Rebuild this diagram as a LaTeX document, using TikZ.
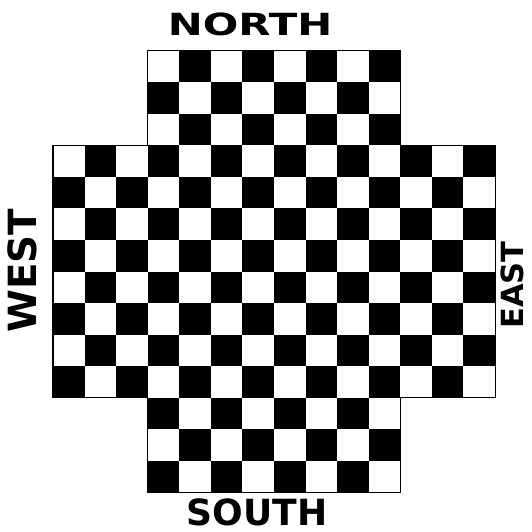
\documentclass[tikz,border=0pt]{standalone}
\usepackage{fontspec}
\usepackage{graphicx}
\newfontfamily\cartello{DejaVu Sans}
\tikzset{
  scritta/.style={inner sep=0pt, font=\cartello\bfseries\fontsize{28}{28}\selectfont},
  bordo/.style={line width=0.8pt}
}
\begin{document}
\begin{tikzpicture}[x=0.8cm,y=-0.8cm]
    \useasboundingbox (-1.68,-1.6) rectangle (15.14,15.25);
    % Caselle
    \foreach \c in {0,...,13}
      \foreach \r in {0,...,13} {
        \pgfmathtruncatemacro{\fuori}{((\c<3)||(\c>10))&&((\r<3)||(\r>10))}
        \pgfmathtruncatemacro{\nero}{mod(\c+\r,2)==0}
        \ifnum\fuori=0 \ifnum\nero=1 \fill (\c,\r) rectangle ++(1,1); \fi\fi
      }
    % Bordo
    \draw [bordo] (3,0) -- (11,0) -- (11,3) -- (14,3) -- (14,11) -- (11,11)
        -- (11,14) -- (3,14) -- (3,11) -- (0,11) -- (0,3) -- (3,3) -- cycle;
    % Scritte
    \node [scritta, font=\cartello\bfseries\fontsize{22}{22}\selectfont] (north) at (6.24,-0.84) {\scalebox{1.37}[1]{NORTH}};
    \node [scritta, font=\cartello\bfseries\fontsize{26}{26}\selectfont] (south) at (6.46,14.62) {SOUTH};
    \node [scritta, rotate=90] (west) at (-0.98,6.98) {WEST};
    \node [scritta, rotate=90, font=\cartello\bfseries\fontsize{22}{22}\selectfont] (east) at (14.56,7.43) {EAST};
\end{tikzpicture}
\end{document}
